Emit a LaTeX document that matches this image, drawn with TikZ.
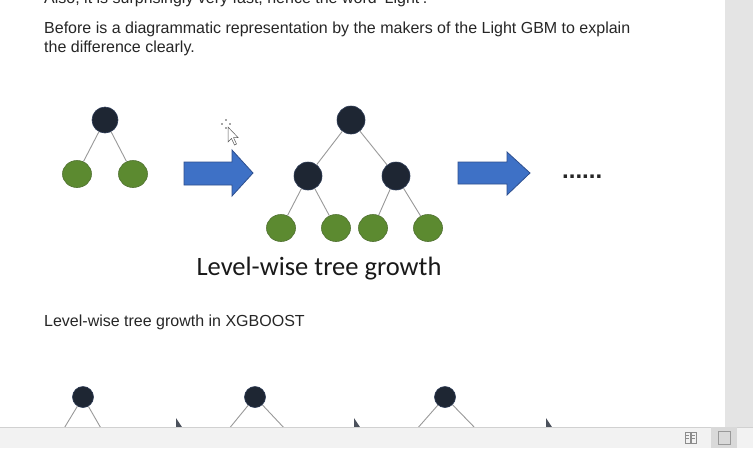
\documentclass[tikz,border=0pt]{standalone}
\usepackage{fontspec}
\setmainfont{Liberation Sans}
\newfontfamily\calib{Carlito}
\definecolor{navy}{HTML}{1E2633}
\definecolor{navyline}{HTML}{2C3A55}
\definecolor{leaf}{HTML}{5C8A30}
\definecolor{leafline}{HTML}{4F7030}
\definecolor{arrowblue}{HTML}{3E71C6}
\definecolor{arrowline}{HTML}{2E4F8E}
\definecolor{edgegray}{HTML}{999999}
\definecolor{pagegray}{HTML}{E4E4E4}
\definecolor{bargray}{HTML}{F2F2F2}
\tikzset{
  darknode/.style={circle, fill=navy, draw=navyline, line width=0.6pt, minimum size=26pt, inner sep=0pt},
  smalldark/.style={circle, fill=navy, draw=navyline, line width=0.6pt, minimum size=21pt, inner sep=0pt},
  leafnode/.style={ellipse, fill=leaf, draw=leafline, line width=0.6pt, minimum width=29pt, minimum height=27pt, inner sep=0pt},
  edge/.style={draw=edgegray, line width=0.9pt},
  body/.style={anchor=base west, inner sep=0pt, font=\fontsize{16}{19}\selectfont, text=black!85},
  blockarrow/.style={fill=arrowblue, draw=arrowline, line width=0.8pt, line join=miter},
}
\usetikzlibrary{shapes.geometric}
\begin{document}
\begin{tikzpicture}[x=1pt,y=-1pt]
\useasboundingbox (0,0) rectangle (753,448);
\clip (0,0) rectangle (753,448);
\fill[white] (0,0) rectangle (753,448);
% right page margin strip
\fill[pagegray] (725,0) rectangle (753,427);

% texts
\node[body] (t0) at (44,3.5) {Also, it is surprisingly very fast, hence the word ‘Light’.};
\node[body] (t1) at (44,33) {Before is a diagrammatic representation by the makers of the Light GBM to explain};
\node[body] (t2) at (44,52) {the difference clearly.};

% tree 1
\node[darknode] (a0) at (105,120) {};
\node[leafnode] (a1) at (77,174) {};
\node[leafnode] (a2) at (133,174) {};
\draw[edge] (a0) -- (a1);
\draw[edge] (a0) -- (a2);

% arrow 1
\draw[blockarrow] (184,162) -- (232,162) -- (232,150) -- (253,173) -- (232,196) -- (232,185) -- (184,185) -- cycle;

% mouse cursor
\fill[black!70] (222,124) circle (0.9) (230,124) circle (0.9) (226,120) circle (0.9) (226,128) circle (0.9);
\filldraw[fill=white, draw=black!65, line width=0.5pt] (228,127) -- (228,142) -- (231.5,138.5) -- (234.5,145) -- (236.5,144) -- (233.5,137.5) -- (238,137.5) -- cycle;

% tree 2
\node[darknode, minimum size=28pt] (b0) at (351,120) {};
\node[darknode, minimum size=28pt] (b1) at (308,176) {};
\node[darknode, minimum size=28pt] (b2) at (396,176) {};
\node[leafnode] (b3) at (281,228) {};
\node[leafnode] (b4) at (336,228) {};
\node[leafnode] (b5) at (373,228) {};
\node[leafnode] (b6) at (428,228) {};
\draw[edge] (b0) -- (b1);
\draw[edge] (b0) -- (b2);
\draw[edge] (b1) -- (b3);
\draw[edge] (b1) -- (b4);
\draw[edge] (b2) -- (b5);
\draw[edge] (b2) -- (b6);

% arrow 2
\draw[blockarrow] (458,162) -- (507,162) -- (507,152) -- (530,173) -- (507,195) -- (507,184) -- (458,184) -- cycle;

% dots
\node[anchor=base west, inner sep=0pt, font=\fontsize{24}{24}\selectfont\bfseries, text=black!85] (dots) at (562,178) {......};

% caption
\node[anchor=base, inner sep=0pt, font=\calib\fontsize{26.5}{30}\selectfont, text=black!90] (cap) at (319,275) {Level-wise tree growth};

% second heading
\node[body] (t3) at (44,326) {Level-wise tree growth in XGBOOST};

% bottom trees (cut off)
\node[smalldark] (c0) at (83,397) {};
\node[smalldark] (d0) at (255,397) {};
\node[smalldark] (e0) at (445,397) {};
\coordinate (c1) at (63,430); \coordinate (c2) at (102,430);
\coordinate (d1) at (228,430); \coordinate (d2) at (286,430);
\coordinate (e1) at (416,430); \coordinate (e2) at (477,430);
\draw[edge] (c0) -- (c1); \draw[edge] (c0) -- (c2);
\draw[edge] (d0) -- (d1); \draw[edge] (d0) -- (d2);
\draw[edge] (e0) -- (e1); \draw[edge] (e0) -- (e2);
% tips of arrows below
\fill[navy!80] (176,418) -- (176,427) -- (182,427) -- cycle;
\fill[navy!80] (354,418) -- (354,427) -- (360,427) -- cycle;
\fill[navy!80] (546,418) -- (546,427) -- (552,427) -- cycle;

% bottom status bar
\fill[bargray] (0,427) rectangle (753,448);
\draw[black!18, line width=0.8pt] (0,427) -- (753,427);
\fill[black!15] (711,427.4) rectangle (737,448);
% icons
\draw[black!45, line width=0.6pt] (685,432) rectangle (690,443) (691,432) rectangle (696,443);
\draw[black!45, line width=0.5pt] (686,435) -- (689,435) (686,438) -- (689,438) (692,435) -- (695,435) (692,438) -- (695,438);
\draw[black!40, line width=0.6pt] (718,431) rectangle (730,444);
\end{tikzpicture}
\end{document}
